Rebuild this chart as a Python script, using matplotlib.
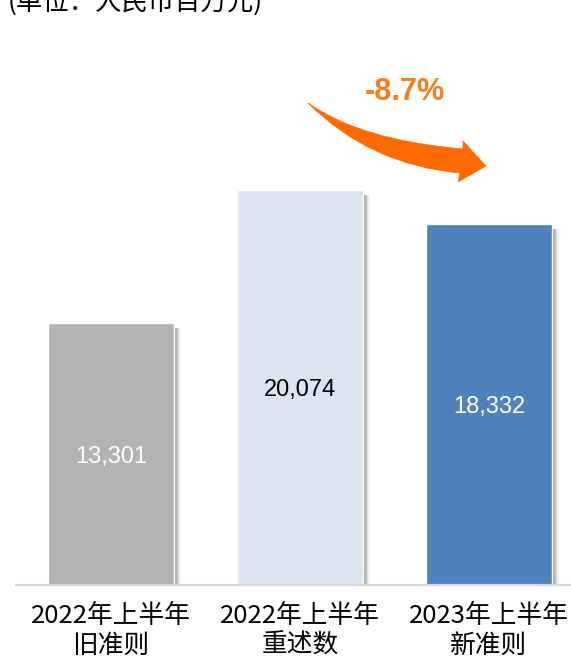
import matplotlib
matplotlib.use("Agg")
import matplotlib.pyplot as plt
import matplotlib.transforms as mtrans
from matplotlib.path import Path
from matplotlib.patches import PathPatch, Rectangle

plt.rcParams['font.family'] = ['Noto Sans CJK SC', 'DejaVu Sans']

# ---- data ----
categories_line1 = ["2022年上半年", "2022年上半年", "2023年上半年"]
categories_line2 = ["旧准则", "重述数", "新准则"]
values = [13301, 20074, 18332]
value_labels = ["13,301", "20,074", "18,332"]
bar_colors = ["#B3B3B3", "#DBE5F1", "#4F81BD"]
label_colors = ["white", "black", "white"]
change_label = "-8.7%"
unit_label = "(单位：人民币百万元)"

W, H = 571, 657
fig = plt.figure(figsize=(W / 100, H / 100), dpi=100)

base_px = 585
ax_left, ax_right = 16, 571
ax = fig.add_axes([ax_left / W, (H - base_px) / H, (ax_right - ax_left) / W, base_px / H])

px_per_unit_x = 189.0
x0_px = 111.0
ax.set_xlim((ax_left - x0_px) / px_per_unit_x, (ax_right - x0_px) / px_per_unit_x)
ymax = 29700
ax.set_ylim(0, ymax)

xs = list(range(len(values)))
bw = 126 / px_per_unit_x
sx = 1.0 / px_per_unit_x            # one pixel in x data units
sy = ymax / base_px                 # one pixel in y data units

# shadows
for x, v in zip(xs, values):
    for i, a in enumerate([0.55, 0.45, 0.32, 0.2, 0.1, 0.04]):
        ax.add_patch(Rectangle((x + bw / 2 + (i + 1) * sx, 0), sx * 1.05, v - 5 * sy,
                               facecolor="#555555", alpha=a, edgecolor="none", zorder=1))

ax.bar(xs, values, width=bw, color=bar_colors, edgecolor="white", linewidth=1.0, zorder=2)

for x, v, lab, c in zip(xs, values, value_labels, label_colors):
    ax.text(x, v / 2 - 3 * sy, lab, ha="center", va="center", color=c, fontsize=17,
            family=["Liberation Sans", "DejaVu Sans"], zorder=3)

for s in ["top", "right", "left"]:
    ax.spines[s].set_visible(False)
ax.spines["bottom"].set_color("#D9D9D9")
ax.spines["bottom"].set_linewidth(1.6)
ax.spines["bottom"].set_zorder(4)
ax.set_xticks([])
ax.set_yticks([])

blend = mtrans.blended_transform_factory(ax.transData, fig.transFigure)
for x, l1, l2 in zip(xs, categories_line1, categories_line2):
    ax.text(x, 1 - 616 / H, l1, transform=blend, ha="center", va="center",
            fontsize=18.5, color="black", clip_on=False)
    ax.text(x, 1 - 646 / H, l2, transform=blend, ha="center", va="center",
            fontsize=18.5, color="black", clip_on=False)

fig.text(8 / W, 1 - 10 / H, unit_label, ha="left", va="baseline", fontsize=19, color="black")

orange = "#FF6A00"
fig.text(405 / W, 1 - 92 / H, change_label, ha="center", va="center", fontsize=22,
         fontweight="bold", color="#F77F20", family=["Liberation Sans", "DejaVu Sans"])

# curved arrow (decorative), pixel coords from top-left
pts = [
    (308, 103), (360, 140), (463, 149),   # upper edge (quadratic)
    (463, 141), (486, 166), (458, 182),   # arrow head
    (460, 173), (370, 165), (308, 103),   # lower edge (quadratic)
]
codes = [Path.MOVETO, Path.CURVE3, Path.CURVE3,
         Path.LINETO, Path.LINETO, Path.LINETO,
         Path.LINETO, Path.CURVE3, Path.CURVE3]
verts = [(px / W, 1 - py / H) for px, py in pts]
fig.patches.append(PathPatch(Path(verts, codes), facecolor=orange, edgecolor=orange,
                             linewidth=0.5, transform=fig.transFigure))

fig.savefig("out.png", dpi=100)
